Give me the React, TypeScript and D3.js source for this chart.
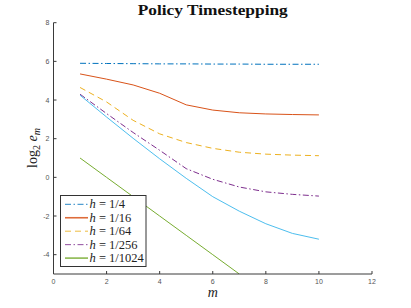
import React from 'react';
import * as d3 from 'd3';

const W = 411, H = 308;
const steps = [1, 2, 3, 4, 5, 6, 7, 8, 9, 10];
const xTicks = [0, 2, 4, 6, 8, 10, 12];
const yTicks = [-4, -2, 0, 2, 4, 6, 8];

const hQuarter = [5.9, 5.89, 5.88, 5.87, 5.87, 5.86, 5.86, 5.85, 5.85, 5.85];
const h16 = [5.35, 5.08, 4.78, 4.35, 3.75, 3.48, 3.34, 3.28, 3.25, 3.23];
const h64 = [4.65, 3.9, 2.95, 2.25, 1.8, 1.5, 1.3, 1.2, 1.15, 1.12];
const h256 = [4.3, 3.3, 2.32, 1.4, 0.45, -0.1, -0.5, -0.75, -0.88, -0.97];
const h1024 = [1.0, 0.0, -1.0, -2.0, -3.0, -4.0, -5.0];
const h4096 = [4.25, 3.12, 2.02, 0.96, -0.05, -1.0, -1.75, -2.4, -2.9, -3.2];

const series = [
  { label: '1/4', vals: hQuarter, color: '#0072BD', dash: '6,2.5,1.5,2.5', legend: true },
  { label: '1/16', vals: h16, color: '#D95319', dash: '', legend: true },
  { label: '1/64', vals: h64, color: '#EDB120', dash: '6,4', legend: true },
  { label: '1/256', vals: h256, color: '#7E2F8E', dash: '6,2.5,1.5,2.5', legend: true },
  { label: '1/1024', vals: h1024, color: '#77AC30', dash: '', legend: true },
  { label: '1/4096', vals: h4096, color: '#4DBEEE', dash: '', legend: false },
];

export default function App() {
  const x = d3.scaleLinear().domain([0, 12]).range([53.5, 372]);
  const y = d3.scaleLinear().domain([-5, 8]).range([274, 22.7]);
  const line = d3.line<[number, number]>().x(d => x(d[0])).y(d => y(d[1]));
  const axisCol = '#3a3a3a';
  const tickCol = '#555';
  const leg = series.filter(s => s.legend);

  return (
    <svg width={W} height={H} style={{ position: 'fixed', left: 0, top: 0, background: '#fff' }}>
      <defs>
        <clipPath id="plot">
          <rect x={x(0)} y={y(8)} width={x(12) - x(0)} height={y(-5) - y(8)} />
        </clipPath>
      </defs>
      <rect width={W} height={H} fill="#fff" />
      <text x={(x(0) + x(12)) / 2} y={15} textAnchor="middle" fontFamily="Liberation Serif" fontWeight="bold" fontSize={15.5}
        fill="#111" textLength={150} lengthAdjust="spacingAndGlyphs">
        Policy Timestepping
      </text>

      <g clipPath="url(#plot)">
        {series.map(s => (
          <path key={s.label} d={line(s.vals.map((v, i) => [steps[i], v] as [number, number])) || ''}
            fill="none" stroke={s.color} strokeWidth={1} strokeDasharray={s.dash || undefined} />
        ))}
      </g>

      {/* axes */}
      <line x1={x(0)} x2={x(0)} y1={y(8)} y2={y(-5)} stroke={axisCol} strokeWidth={1} />
      <line x1={x(0)} x2={x(12)} y1={y(-5)} y2={y(-5)} stroke={axisCol} strokeWidth={1} />
      {yTicks.map(t => (
        <g key={'y' + t}>
          <line x1={x(0)} x2={x(0) + 3} y1={y(t)} y2={y(t)} stroke={axisCol} />
          <text x={x(0) - 4} y={y(t) + 2.5} textAnchor="end" fontFamily="Liberation Sans" fontSize={7} fill={tickCol}>{t}</text>
        </g>
      ))}
      {xTicks.map(t => (
        <g key={'x' + t}>
          <line x1={x(t)} x2={x(t)} y1={y(-5)} y2={y(-5) - 3} stroke={axisCol} />
          <text x={x(t)} y={y(-5) + 10} textAnchor="middle" fontFamily="Liberation Sans" fontSize={7} fill={tickCol}>{t}</text>
        </g>
      ))}

      <text x={x(6)} y={297} textAnchor="middle" fontFamily="Liberation Serif" fontStyle="italic" fontSize={14} fill="#222">m</text>
      <text transform={`translate(37,148) rotate(-90)`} textAnchor="middle" fontFamily="Liberation Serif" fontSize={14} fill="#222">
        log<tspan fontSize={10} dy={3}>2</tspan><tspan dy={-3}> </tspan><tspan fontStyle="italic">e</tspan><tspan fontStyle="italic" fontSize={10} dy={3}>m</tspan>
      </text>

      {/* legend */}
      <rect x={60.5} y={195.5} width={85.5} height={71} fill="#fff" stroke="#333" strokeWidth={1} />
      {leg.map((s, i) => {
        const cy = 204.3 + i * 13.45;
        return (
          <g key={'l' + s.label}>
            <line x1={65} x2={88} y1={cy} y2={cy} stroke={s.color} strokeWidth={s.dash ? 1 : 1.6} strokeDasharray={s.dash || undefined} opacity={0.85} />
            <text x={89.5} y={cy + 4} fontFamily="Liberation Serif" fontSize={12.5} fill="#222">
              <tspan fontStyle="italic">h</tspan> = {s.label}
            </text>
          </g>
        );
      })}
    </svg>
  );
}
